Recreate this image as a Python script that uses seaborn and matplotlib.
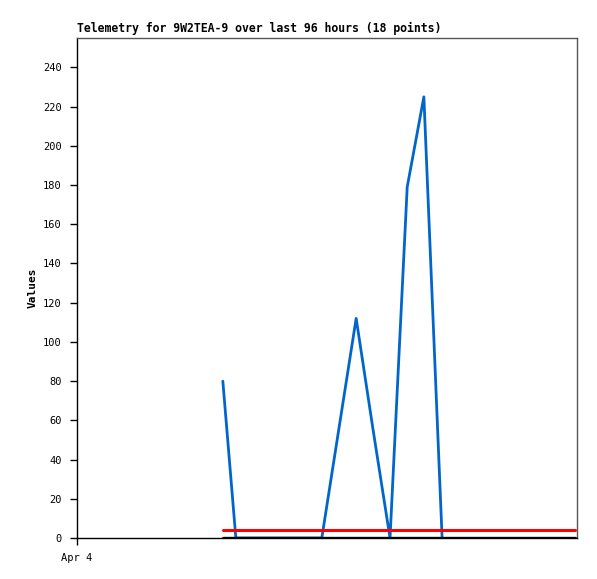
import pandas as pd
import numpy as np
import seaborn as sns
import matplotlib.pyplot as plt

# hours since the left edge of the chart (Apr 4)
blue_hours = [28.0, 30.5, 47.0, 50.3, 53.6, 56.8, 60.1, 63.4, 66.6, 70.1]
blue_values = [80, 0, 0, 56, 112, 56, 0, 179, 225, 0]

ref_hours = [28.0, 95.6]
red_values = [4, 4]
black_values = [0, 0]

tick_hours = [0]
tick_labels = ['Apr 4']

blue_df = pd.DataFrame({'hours': blue_hours, 'value': blue_values})
red_df = pd.DataFrame({'hours': ref_hours, 'value': red_values})
black_df = pd.DataFrame({'hours': ref_hours, 'value': black_values})

sns.set_style('white')
plt.rcParams['font.family'] = ['DejaVu Sans Mono', 'DejaVu Sans']
plt.rcParams['text.color'] = 'black'
plt.rcParams['axes.labelcolor'] = 'black'
plt.rcParams['xtick.color'] = 'black'
plt.rcParams['ytick.color'] = 'black'

fig = plt.figure(figsize=(5.97, 5.79), dpi=100)
ax = fig.add_axes([77/597, 41/579, 500/597, 500/579])

sns.lineplot(data=blue_df, x='hours', y='value', color='#0066cc', linewidth=2.0, ax=ax)
sns.lineplot(data=red_df, x='hours', y='value', color='#ff0000', linewidth=2.2, ax=ax)
sns.lineplot(data=black_df, x='hours', y='value', color='black', linewidth=2.4, ax=ax)

ax.set_xlim(0, 96)
ax.set_ylim(0, 255)
ax.set_yticks(range(0, 241, 20))
ax.set_xticks(tick_hours)
ax.set_xticklabels(tick_labels)
ax.tick_params(axis='both', direction='out', length=5, width=1, labelsize=7.5,
               left=True, bottom=True, color='black', pad=6)
for side in ['left', 'bottom']:
    ax.spines[side].set_color('black')
    ax.spines[side].set_linewidth(1)
for side in ['top', 'right']:
    ax.spines[side].set_color('#555555')
    ax.spines[side].set_linewidth(1)

ax.set_xlabel('')
ax.set_ylabel('Values', fontsize=8, fontweight='bold', labelpad=4)
ax.set_title('Telemetry for 9W2TEA-9 over last 96 hours (18 points)',
             loc='left', fontsize=8.3, fontweight='bold', pad=4)

fig.savefig('out.png', dpi=100)
